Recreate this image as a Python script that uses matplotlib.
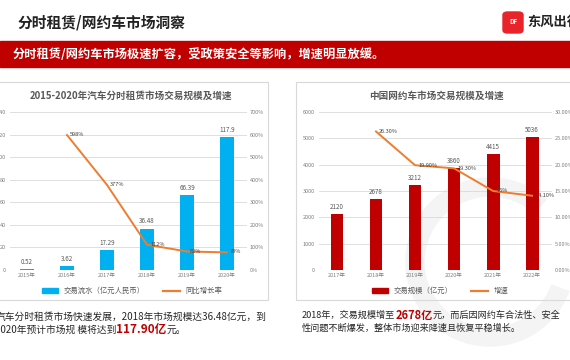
import matplotlib
matplotlib.use("Agg")
import matplotlib.pyplot as plt
from matplotlib.patches import Rectangle, FancyBboxPatch, Arc
from matplotlib.lines import Line2D
from matplotlib.ticker import FuncFormatter

plt.rcParams['font.family'] = ['Noto Sans CJK SC', 'DejaVu Sans']

# ---- data ----
years_left = ['2015年', '2016年', '2017年', '2018年', '2019年', '2020年']
volume_left = [0.52, 3.62, 17.29, 36.48, 66.39, 117.9]
volume_left_labels = ['0.52', '3.62', '17.29', '36.48', '66.39', '117.9']
growth_left = [None, 598, 377, 112, 82, 78]
growth_left_labels = ['', '598%', '377%', '112%', '82%', '78%']

years_right = ['2017年', '2018年', '2019年', '2020年', '2021年', '2022年']
volume_right = [2120, 2678, 3212, 3860, 4415, 5036]
growth_right = [None, 26.3, 19.9, 19.3, 15.0, 14.1]
growth_right_labels = ['', '26.30%', '19.90%', '19.30%', '15%', '14.10%']

W, H = 570, 360
fig = plt.figure(figsize=(W / 100, H / 100), dpi=100)
fig.patch.set_facecolor('white')


def rect(x0, y0, x1, y1):
    # pixel box (top-left origin) -> figure fraction [l, b, w, h]
    return [x0 / W, 1 - y1 / H, (x1 - x0) / W, (y1 - y0) / H]


def fx(x):
    return x / W


def fy(y):
    return 1 - y / H


GRAY = '#7F7F7F'
GRID = '#D9D9D9'
ORANGE = '#ED7D31'

# ---- header ----
fig.text(fx(18), fy(22), '分时租赁/网约车市场洞察', fontsize=10.6, fontweight='bold',
         color='#222222', va='center')
fig.patches.append(FancyBboxPatch((fx(503), fy(33)), fx(20), 21 / H,
                                  boxstyle='round,pad=0,rounding_size=0.008',
                                  transform=fig.transFigure, color='#E8232A'))
fig.text(fx(513), fy(21), 'DF', fontsize=4.5, color='white', fontweight='bold',
         ha='center', va='center')
fig.text(fx(527), fy(22), '东风出行', fontsize=9.5, fontweight='bold', color='#222222',
         va='center')

fig.patches.append(Rectangle((0, fy(67)), 1, 26 / H, transform=fig.transFigure,
                             color='#C00000'))
fig.text(fx(13), fy(54), '分时租赁/网约车市场极速扩容，受政策安全等影响，增速明显放缓。',
         fontsize=8.8, fontweight='bold', color='white', va='center')

# ---- panel borders ----
for (x0, x1) in [(-2, 268), (296, 575)]:
    fig.patches.append(Rectangle((fx(x0), fy(300)), (x1 - x0) / W, 218 / H,
                                 transform=fig.transFigure, fill=False,
                                 edgecolor='#D9D9D9', lw=0.8))

# faint watermark in right panel
fig.patches.append(Arc((fx(490), fy(262)), 150 / W, 150 / H, theta1=60, theta2=330,
                       transform=fig.transFigure, color='#F4F4F4', lw=14, zorder=-1))


def style_axes(ax, ax2):
    for a in (ax, ax2):
        for s in a.spines.values():
            s.set_visible(False)
        a.tick_params(length=0, labelsize=4, labelcolor=GRAY, pad=2)
        a.patch.set_alpha(0)
    ax.yaxis.grid(True, color=GRID, lw=0.6)
    ax.set_axisbelow(True)


# ---- left chart ----
fig.text(fx(131), fy(96), '2015-2020年汽车分时租赁市场交易规模及增速', fontsize=6.9,
         fontweight='bold', color='#595959', ha='center', va='center')
axl = fig.add_axes(rect(10, 112, 247, 270))
xl = list(range(len(years_left)))
axl.bar(xl, volume_left, width=0.33, color='#00B0F0', zorder=2)
for x, v, t in zip(xl, volume_left, volume_left_labels):
    axl.text(x, v + 3, t, ha='center', va='bottom', fontsize=4.5, color='#595959')
axl.set_xlim(-0.425, 5.5)
axl.set_ylim(0, 140)
axl.set_yticks(range(0, 141, 20))
axl.set_xticks(xl)
axl.set_xticklabels(years_left)
axl2 = axl.twinx()
gx = [x for x, g in zip(xl, growth_left) if g is not None]
gy = [g for g in growth_left if g is not None]
axl2.plot(gx, gy, color=ORANGE, lw=1.4, zorder=3)
for x, g, t in zip(xl, growth_left, growth_left_labels):
    if g is not None:
        axl2.text(x + 0.08, g + 2, t, fontsize=4, color='#404040', va='center', ha='left')
axl2.set_ylim(0, 700)
axl2.set_yticks(range(0, 701, 100))
axl2.yaxis.set_major_formatter(FuncFormatter(lambda v, p: f'{v:.0f}%'))
style_axes(axl, axl2)
axl.tick_params(axis='y', pad=3)

handles = [Rectangle((0, 0), 1, 1, color='#00B0F0'), Line2D([], [], color=ORANGE, lw=1.6)]
fig.legend(handles, ['交易流水（亿元人民币）', '同比增长率'], loc='center',
           bbox_to_anchor=(fx(132), fy(291)), ncol=2, frameon=False, fontsize=5.3,
           labelcolor='#595959', handlelength=2.2, handleheight=0.6, columnspacing=2.5)

# ---- right chart ----
fig.text(fx(437), fy(96), '中国网约车市场交易规模及增速', fontsize=6.9,
         fontweight='bold', color='#595959', ha='center', va='center')
axr = fig.add_axes(rect(319, 112, 552, 270))
xr = list(range(len(years_right)))
axr.bar(xr, volume_right, width=0.33, color='#C00000', zorder=2)
for x, v in zip(xr, volume_right):
    axr.text(x, v + 120, f'{v}', ha='center', va='bottom', fontsize=4.5, color='#595959')
axr.set_xlim(-0.46, 5.51)
axr.set_ylim(0, 6000)
axr.set_yticks(range(0, 6001, 1000))
axr.set_xticks(xr)
axr.set_xticklabels(years_right)
axr2 = axr.twinx()
rx = [x for x, g in zip(xr, growth_right) if g is not None]
ry = [g for g in growth_right if g is not None]
axr2.plot(rx, ry, color=ORANGE, lw=1.4, zorder=3)
for x, g, t in zip(xr, growth_right, growth_right_labels):
    if g is not None:
        axr2.text(x + 0.08, g, t, fontsize=4, color='#404040', va='center', ha='left')
axr2.set_ylim(0, 30)
axr2.set_yticks(range(0, 31, 5))
axr2.yaxis.set_major_formatter(FuncFormatter(lambda v, p: f'{v:.2f}%'))
style_axes(axr, axr2)
axr.tick_params(axis='y', pad=3)

handles = [Rectangle((0, 0), 1, 1, color='#C00000'), Line2D([], [], color=ORANGE, lw=1.6)]
fig.legend(handles, ['交易规模（亿元）', '增速'], loc='center',
           bbox_to_anchor=(fx(440), fy(291)), ncol=2, frameon=False, fontsize=5.3,
           labelcolor='#595959', handlelength=2.2, handleheight=0.6, columnspacing=2.5)

# ---- body text with highlighted segments ----
renderer = fig.canvas.get_renderer()


def rich_line(x, y, segments):
    for text, color, size, weight in segments:
        t = fig.text(fx(x), fy(y), text, fontsize=size, color=color, fontweight=weight,
                     va='center', ha='left')
        bb = t.get_window_extent(renderer=renderer)
        x += bb.width


rich_line(-4, 317, [('汽车分时租赁市场快速发展，2018年市场规模达36.48亿元，到', '#262626', 7.0, 'normal')])
rich_line(-5, 330, [('2020年预计市场规 模将达到', '#262626', 7.0, 'normal'),
                    ('117.90亿', '#C00000', 8.4, 'bold'),
                    ('元。', '#262626', 7.0, 'normal')])
rich_line(302, 315, [('2018年，交易规模增至', '#262626', 6.6, 'normal'),
                     ('2678亿', '#C00000', 8.0, 'bold'),
                     ('元，而后因网约车合法性、安全', '#262626', 6.6, 'normal')])
rich_line(302, 328, [('性问题不断爆发，整体市场迎来降速且恢复平稳增长。', '#262626', 6.6, 'normal')])

fig.savefig('out.png', dpi=100)
